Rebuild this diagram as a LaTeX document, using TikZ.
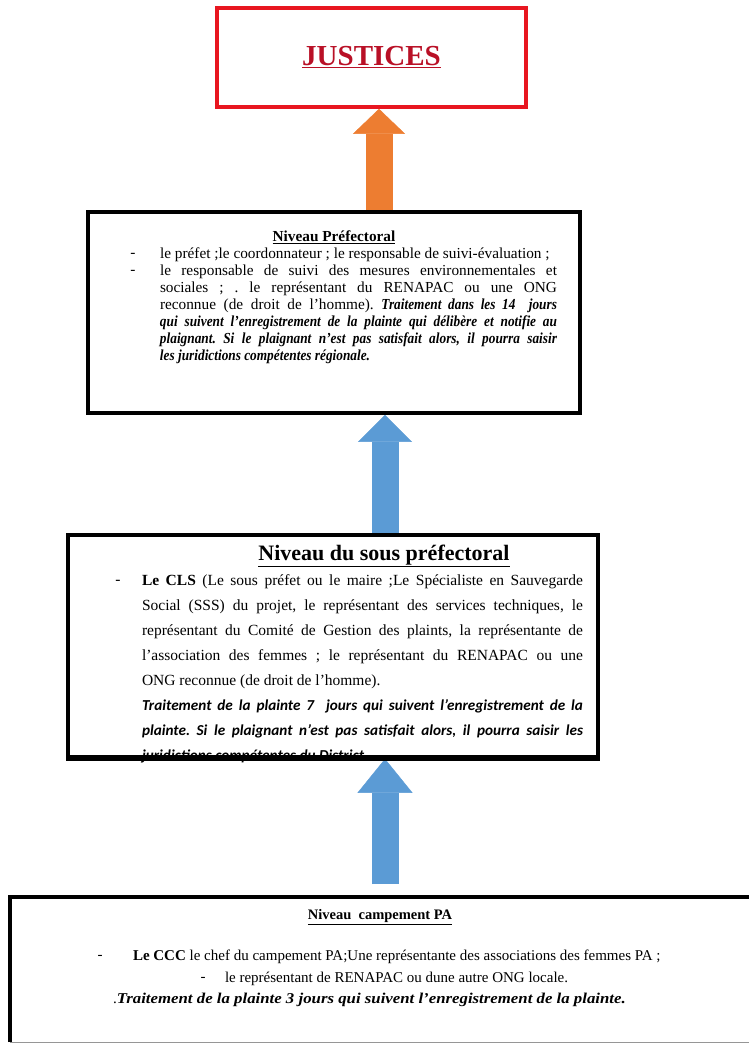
\documentclass[tikz,border=0pt]{standalone}
\usepackage{fontspec}
\setmainfont{Liberation Serif}
\newfontfamily\calib{Carlito}
\newfontfamily\narrowserif[FakeStretch=0.87]{Liberation Serif}
\newfontfamily\wideserif[FakeStretch=1.12]{Liberation Serif}
\usetikzlibrary{arrows.meta,backgrounds}
\definecolor{boxred}{RGB}{232,22,32}
\definecolor{titred}{RGB}{185,16,38}
\definecolor{arrorange}{RGB}{237,125,49}
\definecolor{arrblue}{RGB}{91,155,213}
\definecolor{linegray}{RGB}{150,150,150}
\newcommand{\pbi}[1]{{\narrowserif\bfseries\itshape #1}}
\frenchspacing
\begin{document}
\begin{tikzpicture}[x=1pt,y=-1pt,
  frame/.style={draw=black,line width=3.6pt,inner sep=0pt},
  redframe/.style={draw=boxred,line width=3.6pt,inner sep=0pt},
  txt/.style={inner sep=0pt,outer sep=0pt},
  body/.style={txt,anchor=north west,align=justify},
  blockarrow/.style={line width=27pt},
]
\useasboundingbox (0,0) rectangle (749,1045);

% boxes
\node[redframe,minimum width=309pt,minimum height=99pt] (just) at (371.5,57.5)
  {\fontsize{29}{34}\selectfont\bfseries\color{titred}\underline{JUSTICES}};
\node[frame,minimum width=492pt,minimum height=201pt] (pref) at (334,312.5) {};
\node[frame,minimum width=530pt,minimum height=222pt] (sous) at (333,646) {};
\node[txt,minimum width=760pt,minimum height=145pt] (camp) at (390,969.5) {};
\draw[black,line width=3.6pt] (camp.south west) -- (camp.north west) -- (camp.north east);
\draw[linegray,line width=1pt] (camp.south west) -- (camp.south east);

% arrows
\coordinate (oax) at (379,0);
\coordinate (bax) at (385,0);
\begin{scope}[on background layer]
\draw[blockarrow,arrorange,-{Triangle[length=25pt,width=52pt,line width=0.4pt]}]
  (oax |- pref.north) -- (oax |- just.south);
\draw[blockarrow,arrblue,-{Triangle[length=27pt,width=54pt,line width=0.4pt]}]
  (bax |- sous.north) -- (bax |- pref.south);
\coordinate (b2start) at (385,884);
\draw[blockarrow,arrblue,-{Triangle[length=34pt,width=55pt,line width=0.4pt]}]
  (b2start) -- (bax |- sous.south);
\end{scope}

% Niveau prefectoral
\node[txt,font=\fontsize{15.3}{17}\selectfont\bfseries] (prefh) at (334,237) {\underline{Niveau Préfectoral}};
\node[txt,font=\fontsize{15.3}{17}\selectfont] (pb1) at (133,255) {-};
\node[txt,font=\fontsize{15.3}{17}\selectfont] (pb2) at (133,272) {-};
\node[body,text width=397pt,font=\fontsize{15.3}{17}\selectfont] (pbody) at (160,248)
 {le préfet ;le coordonnateur ; le responsable de suivi-évaluation ;\par
  le responsable de suivi des mesures environnementales et\linebreak
  sociales ; . le représentant du RENAPAC ou une ONG\linebreak
  reconnue (de droit de l’homme). \pbi{Traitement dans les 14~ jours}\linebreak
  \pbi{qui suivent l’enregistrement de la plainte qui délibère et notifie au}\linebreak
  \pbi{plaignant. Si le plaignant n’est pas satisfait alors, il pourra saisir}\linebreak
  \pbi{les juridictions compétentes régionale.}};

% Niveau du sous prefectoral
\node[txt,font=\fontsize{22}{25}\selectfont\bfseries] (soush) at (384,556) {\underline{Niveau du sous préfectoral}};
\node[txt,font=\fontsize{15.5}{25}\selectfont] (sb1) at (118,582) {-};
\node[body,text width=441pt,font=\fontsize{15.5}{25}\selectfont] (sbody) at (142,575)
 {\textbf{Le CLS} (Le sous préfet ou le maire ;Le Spécialiste en Sauvegarde\linebreak
  Social (SSS) du projet, le représentant des services techniques, le\linebreak
  représentant du Comité de Gestion des plaints, la représentante de\linebreak
  l’association des femmes ; le représentant du RENAPAC ou une\linebreak
  ONG reconnue (de droit de l’homme).\par
  {\calib\fontsize{15.2}{25}\selectfont\bfseries\itshape Traitement de la plainte 7~ jours qui suivent l’enregistrement de la\linebreak
  plainte. Si le plaignant n’est pas satisfait alors, il pourra saisir les\linebreak
  juridictions compétentes du District.\par}};
\draw[black,line width=3.6pt] (sous.south west) -- (sous.south east);

% Niveau campement PA
\node[txt,font=\fontsize{14.5}{17}\selectfont\bfseries] (camph) at (380,917) {\underline{Niveau~ campement PA}};
\node[txt,font=\fontsize{15}{17}\selectfont] (cb1) at (100,957) {-};
\node[txt,anchor=west,font=\fontsize{15}{17}\selectfont] (cl1) at (133,957)
  {\textbf{Le CCC} le chef du campement PA;Une représentante des associations des femmes PA ;};
\node[txt,font=\fontsize{15}{17}\selectfont] (cb2) at (203,979) {-};
\node[txt,anchor=west,font=\fontsize{15}{17}\selectfont] (cl2) at (225,979)
  {le représentant de RENAPAC ou dune autre ONG locale.};
\node[txt,anchor=west,font=\fontsize{15}{17}\selectfont] (cl3) at (113,1000)
  {.{\wideserif\bfseries\itshape Traitement de la plainte 3 jours qui suivent l’enregistrement de la plainte.}};
\end{tikzpicture}
\end{document}
